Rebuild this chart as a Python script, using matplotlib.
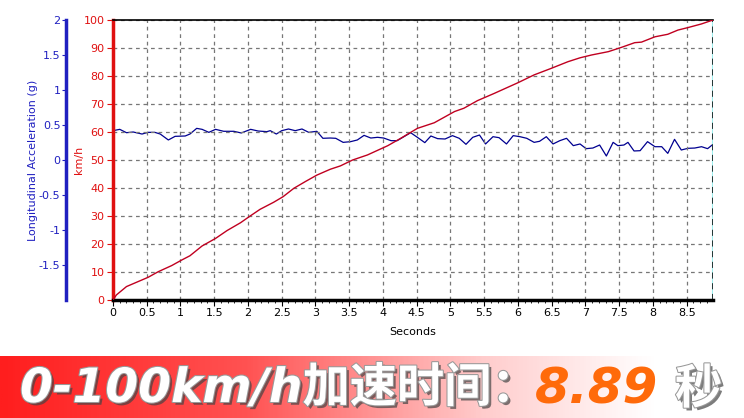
import numpy as np
import matplotlib.pyplot as plt
import matplotlib.patheffects as pe
from matplotlib.colors import LinearSegmentedColormap

# speed trace (km/h)
t_speed = [0, 0.05, 0.2, 0.52, 0.67, 0.87, 1.02, 1.14, 1.32, 1.52, 1.69, 1.89,
           2.02, 2.18, 2.38, 2.52, 2.68, 2.85, 3.02, 3.22, 3.37, 3.55, 3.77,
           4.07, 4.26, 4.51, 4.76, 5.06, 5.2, 5.4, 5.65, 6.0, 6.24, 6.49, 6.74,
           6.92, 7.09, 7.34, 7.53, 7.73, 7.83, 8.03, 8.22, 8.37, 8.52, 8.72, 8.89]
speed = [0, 1.8, 4.8, 8.1, 10.1, 12.3, 14.3, 15.8, 19.3, 22.0, 24.8, 27.6,
         29.8, 32.4, 34.9, 36.9, 39.9, 42.3, 44.6, 46.7, 47.9, 50.0, 51.8,
         55.1, 57.7, 61.3, 63.3, 67.3, 68.5, 71.2, 73.8, 77.6, 80.4, 82.7, 85.1,
         86.5, 87.5, 88.7, 90.2, 91.9, 92.1, 94.0, 94.9, 96.4, 97.3, 98.6, 100]

# longitudinal acceleration (g)
t_acc = [0.0, 0.1, 0.2, 0.3, 0.43, 0.52, 0.62, 0.7, 0.82, 0.92, 1.07, 1.14,
         1.24, 1.32, 1.42, 1.52, 1.64, 1.79, 1.9, 2.04, 2.15, 2.28, 2.33, 2.42,
         2.5, 2.6, 2.7, 2.8, 2.9, 3.02, 3.11, 3.22, 3.3, 3.41, 3.52, 3.62, 3.72,
         3.82, 3.92, 4.01, 4.12, 4.21, 4.31, 4.41, 4.51, 4.62, 4.71, 4.81, 4.92,
         5.03, 5.13, 5.23, 5.33, 5.43, 5.52, 5.63, 5.72, 5.83, 5.93, 6.03, 6.13,
         6.24, 6.32, 6.42, 6.52, 6.62, 6.72, 6.82, 6.92, 7.01, 7.11, 7.21, 7.31,
         7.41, 7.48, 7.57, 7.63, 7.72, 7.81, 7.92, 8.03, 8.13, 8.22, 8.32, 8.42,
         8.52, 8.62, 8.72, 8.81, 8.89]
acc = [0.419, 0.438, 0.390, 0.400, 0.371, 0.395, 0.395, 0.371, 0.286, 0.338,
       0.343, 0.371, 0.452, 0.438, 0.395, 0.438, 0.410, 0.410, 0.386, 0.438,
       0.414, 0.405, 0.419, 0.371, 0.419, 0.443, 0.419, 0.443, 0.395, 0.410,
       0.310, 0.314, 0.310, 0.252, 0.262, 0.286, 0.352, 0.314, 0.324, 0.314,
       0.276, 0.276, 0.333, 0.390, 0.324, 0.248, 0.343, 0.305, 0.300, 0.348,
       0.310, 0.224, 0.324, 0.357, 0.229, 0.333, 0.319, 0.229, 0.348, 0.333,
       0.310, 0.252, 0.267, 0.333, 0.229, 0.276, 0.310, 0.205, 0.229, 0.162,
       0.171, 0.214, 0.057, 0.252, 0.205, 0.214, 0.252, 0.129, 0.133, 0.262,
       0.190, 0.190, 0.095, 0.295, 0.143, 0.167, 0.171, 0.190, 0.162, 0.224]

x_ticks = np.arange(0, 9, 0.5)
x_labels = ["0", "0.5", "1", "1.5", "2", "2.5", "3", "3.5", "4", "4.5",
            "5", "5.5", "6", "6.5", "7", "7.5", "8", "8.5"]
acc_ticks = [2, 1.5, 1, 0.5, 0, -0.5, -1, -1.5]
acc_labels = ["2", "1.5", "1", "0.5", "0", "-0.5", "-1", "-1.5"]
t_end = 8.89

RED = "#e01010"
BLUE = "#2020c0"

fig = plt.figure(figsize=(7.44, 4.18), dpi=100)
ax = fig.add_axes([113 / 744, 1 - 300 / 418, 600 / 744, 280 / 418])

ax.set_xlim(0, t_end)
ax.set_ylim(0, 100)
ax.set_xticks(x_ticks)
ax.set_xticklabels(x_labels)
ax.set_xticks(np.arange(0, 8.9, 0.1), minor=True)
ax.set_yticks(range(0, 101, 10))
ax.grid(True, color="#777777", ls=(0, (3, 3)), lw=0.9)
ax.tick_params(axis="x", which="major", length=4, labelsize=8, pad=2)
ax.tick_params(axis="x", which="minor", length=2)
ax.tick_params(axis="y", length=4, labelsize=8, colors=RED, pad=2)
ax.spines["top"].set_linewidth(1.2)
ax.spines["right"].set_visible(False)
ax.spines["left"].set_color(RED)
ax.spines["left"].set_linewidth(2.5)
ax.spines["bottom"].set_linewidth(2.5)
ax.set_xlabel("Seconds", fontsize=8)
ax.xaxis.set_label_coords(0.5, -0.095)
ax.set_ylabel("km/h", fontsize=8, color=RED)
ax.yaxis.set_label_coords(-29 / 600, 0.5)

ax.axvline(t_end, color="#a0f0f0", lw=1.5)
ax.axvline(t_end, color="black", lw=1.1, ls=(0, (4, 3)))

ax2 = ax.twinx()
ax2.set_ylim(-2, 2)
ax2.set_yticks(acc_ticks)
ax2.set_yticklabels(acc_labels)
ax2.yaxis.set_ticks_position("left")
ax2.yaxis.set_label_position("left")
ax2.spines["left"].set_position(("axes", -47 / 600))
ax2.spines["left"].set_color(BLUE)
ax2.spines["left"].set_linewidth(2.5)
for s in ["right", "top", "bottom"]:
    ax2.spines[s].set_visible(False)
ax2.tick_params(axis="y", length=3, labelsize=8, colors=BLUE, pad=1)
ax2.set_ylabel("Longitudinal Acceleration (g)", fontsize=8, color=BLUE)
ax2.yaxis.set_label_coords(-75 / 600, 0.5)

ax2.plot(t_acc, acc, color="#000090", lw=0.9)
ax.set_zorder(ax2.get_zorder() + 1)
ax.patch.set_visible(False)
ax.plot(t_speed, speed, color="#c00020", lw=1.0, zorder=5)

# banner with red -> white gradient
bax = fig.add_axes([0, 0, 1, 62 / 418])
cmap = LinearSegmentedColormap.from_list(
    "banner", [(0, "#ff1e1e"), (0.33, "#ff5252"), (0.65, "#ffcccc"),
               (0.88, "#ffffff"), (1, "#ffffff")])
bax.imshow(np.linspace(0, 1, 400).reshape(1, -1), aspect="auto", cmap=cmap,
           extent=[0, 1, 0, 1])
bax.set_xlim(0, 1)
bax.set_ylim(0, 1)
bax.axis("off")

shadow = [pe.SimplePatchShadow(offset=(2, -2), shadow_rgbFace="#444444", alpha=0.7),
          pe.Stroke(linewidth=1.5, foreground="#999999"), pe.Normal()]
font = ["DejaVu Sans", "Noto Sans CJK SC"]
bax.text(20 / 744, 0.46, "0-100km/h加速时间：", color="white", fontsize=34,
         fontweight="bold", style="italic", family=font, va="center",
         ha="left", path_effects=shadow)
bax.text(535 / 744, 0.46, "8.89", color="#ff6a0a", fontsize=36,
         fontweight="bold", style="italic", family=font, va="center",
         ha="left")
bax.text(675 / 744, 0.46, "秒", color="white", fontsize=34,
         fontweight="heavy", family=["Noto Sans CJK SC"], va="center",
         ha="left", path_effects=shadow)

fig.savefig("out.png", dpi=100)
